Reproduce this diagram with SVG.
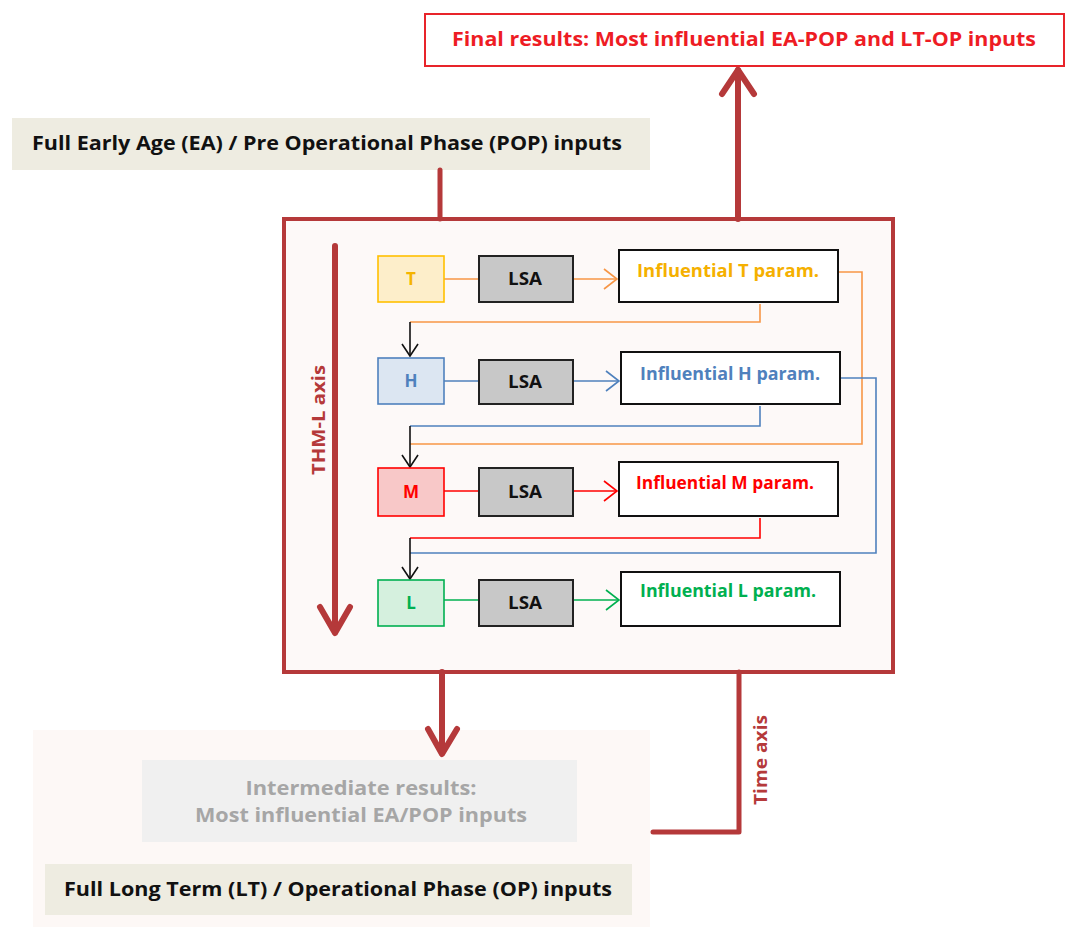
<svg xmlns="http://www.w3.org/2000/svg" width="1080" height="927" viewBox="0 0 1080 927">
<style>
.t{font-family:"Open Sans","Liberation Sans",sans-serif;font-weight:bold;}
.dr{stroke:#b5393a;fill:none;stroke-linecap:round;stroke-linejoin:round;}
.lsa{fill:#c8c8c8;stroke:#222;stroke-width:2;}
.inf{fill:#fff;stroke:#111;stroke-width:2;}
.thin{fill:none;stroke-width:1.6;}
.blk{fill:none;stroke:#111;stroke-width:1.6;}
</style>
<rect width="1080" height="927" fill="#fff"/>
<!-- bottom panel background -->
<rect x="33" y="730" width="617" height="197" fill="#fdf8f6"/>

<g id="final">
<rect x="425" y="14" width="639" height="52" fill="#fff" stroke="#e8242a" stroke-width="2"/>
<text class="t" x="744" y="46" font-size="19" fill="#ee1c24" text-anchor="middle" textLength="584" lengthAdjust="spacingAndGlyphs">Final results: Most influential EA-POP and LT-OP inputs</text>
</g>
<g id="ea">
<rect x="12" y="118" width="638" height="52" fill="#eeece1"/>
<text class="t" x="327" y="150" font-size="19" fill="#111" text-anchor="middle" textLength="590" lengthAdjust="spacingAndGlyphs">Full Early Age (EA) / Pre Operational Phase (POP) inputs</text>
</g>
<g id="main">
<rect x="284" y="219" width="609" height="453" fill="#fdf9f8" stroke="#b5393a" stroke-width="4"/>
</g>

<g id="connectors">
<!-- EA to main -->
<line class="dr" x1="440" y1="170" x2="440" y2="219" stroke-width="5"/>
<!-- up arrow to final -->
<line class="dr" x1="738" y1="219" x2="738" y2="70" stroke-width="6"/>
<polyline class="dr" points="722,94 738,70 754,94" stroke-width="6"/>
<!-- THM-L axis -->
<line class="dr" x1="335" y1="246" x2="335" y2="632" stroke-width="6"/>
<polyline class="dr" points="320,607 335,633 350,607" stroke-width="6"/>
<!-- down arrow to intermediate -->
<line class="dr" x1="442" y1="672" x2="442" y2="753" stroke-width="6" stroke="#c0504d"/>
<polyline class="dr" points="428,729 442,754 457,729" stroke-width="6" stroke="#c9585a"/>
<!-- time axis -->
<polyline class="dr" points="739,672 739,832 653,832" stroke-width="5" stroke-linecap="butt"/>

<!-- T row -->
<line class="thin" stroke="#f79646" x1="444" y1="279" x2="479" y2="279"/>
<line class="thin" stroke="#f79646" x1="573" y1="279" x2="617" y2="279"/>
<polyline class="thin" stroke="#f79646" points="604,269 617,279 604,289"/>
<polyline class="thin" stroke="#f79646" points="760,304 760,322 410,322"/>
<polyline class="thin" stroke="#f79646" points="838,272 862,272 862,444 410,444"/>
<!-- H row -->
<line class="thin" stroke="#4f81bd" x1="444" y1="381" x2="479" y2="381"/>
<line class="thin" stroke="#4f81bd" x1="573" y1="381" x2="619" y2="381"/>
<polyline class="thin" stroke="#4f81bd" points="606,371 619,381 606,391"/>
<polyline class="thin" stroke="#4f81bd" points="760,406 760,426 410,426"/>
<polyline class="thin" stroke="#4f81bd" points="840,378 876,378 876,553 410,553"/>
<!-- M row -->
<line class="thin" stroke="#ff0000" x1="444" y1="491" x2="479" y2="491"/>
<line class="thin" stroke="#ff0000" x1="573" y1="491" x2="617" y2="491"/>
<polyline class="thin" stroke="#ff0000" points="604,481 617,491 604,501"/>
<polyline class="thin" stroke="#ff0000" points="760,518 760,538 410,538"/>
<!-- L row -->
<line class="thin" stroke="#00b050" x1="444" y1="600" x2="479" y2="600"/>
<line class="thin" stroke="#00b050" x1="573" y1="600" x2="619" y2="600"/>
<polyline class="thin" stroke="#00b050" points="606,590 619,600 606,610"/>
<!-- black arrows -->
<line class="blk" x1="410" y1="322" x2="410" y2="355"/>
<polyline class="blk" points="402,344 410,356 418,344"/>
<line class="blk" x1="410" y1="426" x2="410" y2="466"/>
<polyline class="blk" points="402,455 410,467 418,455"/>
<line class="blk" x1="410" y1="538" x2="410" y2="578"/>
<polyline class="blk" points="402,567 410,579 418,567"/>
</g>

<text class="t" transform="translate(325,420) rotate(-90)" font-size="18" fill="#b5393a" text-anchor="middle" textLength="110" lengthAdjust="spacingAndGlyphs">THM-L axis</text>
<text class="t" transform="translate(767,760) rotate(-90)" font-size="18" fill="#b5393a" text-anchor="middle" textLength="90" lengthAdjust="spacingAndGlyphs">Time axis</text>

<g id="T">
<rect x="378" y="256" width="66" height="46" fill="#fdeeca" stroke="#ffc000" stroke-width="1.6"/>
<text class="t" x="411" y="285" font-size="17" fill="#f5b400" text-anchor="middle">T</text>
</g>
<g id="LSA-T"><rect class="lsa" x="479" y="256" width="94" height="46"/><text class="t" x="525" y="285" font-size="17" fill="#111" text-anchor="middle" textLength="34" lengthAdjust="spacingAndGlyphs">LSA</text></g>
<g id="InfT"><rect class="inf" x="619" y="250" width="219" height="52"/><text class="t" x="728" y="277" font-size="17" fill="#f5b000" text-anchor="middle" textLength="182" lengthAdjust="spacingAndGlyphs">Influential T param.</text></g>

<g id="H">
<rect x="378" y="358" width="66" height="46" fill="#dce6f2" stroke="#4f81bd" stroke-width="1.6"/>
<text class="t" x="411" y="387" font-size="17" fill="#4f81bd" text-anchor="middle">H</text>
</g>
<g id="LSA-H"><rect class="lsa" x="479" y="360" width="94" height="44"/><text class="t" x="525" y="388" font-size="17" fill="#111" text-anchor="middle" textLength="34" lengthAdjust="spacingAndGlyphs">LSA</text></g>
<g id="InfH"><rect class="inf" x="621" y="352" width="219" height="52"/><text class="t" x="730" y="380" font-size="17" fill="#4f81bd" text-anchor="middle" textLength="180" lengthAdjust="spacingAndGlyphs">Influential H param.</text></g>

<g id="M">
<rect x="378" y="468" width="66" height="48" fill="#f8c8c8" stroke="#ff0000" stroke-width="1.6"/>
<text class="t" x="411" y="498" font-size="17" fill="#ff0000" text-anchor="middle">M</text>
</g>
<g id="LSA-M"><rect class="lsa" x="479" y="468" width="94" height="48"/><text class="t" x="525" y="498" font-size="17" fill="#111" text-anchor="middle" textLength="34" lengthAdjust="spacingAndGlyphs">LSA</text></g>
<g id="InfM"><rect class="inf" x="619" y="462" width="219" height="54"/><text class="t" x="725" y="489" font-size="17" fill="#ff0000" text-anchor="middle" textLength="178" lengthAdjust="spacingAndGlyphs">Influential M param.</text></g>

<g id="L">
<rect x="378" y="580" width="66" height="46" fill="#d5f0de" stroke="#00b050" stroke-width="1.6"/>
<text class="t" x="411" y="609" font-size="17" fill="#00b050" text-anchor="middle">L</text>
</g>
<g id="LSA-L"><rect class="lsa" x="479" y="580" width="94" height="46"/><text class="t" x="525" y="609" font-size="17" fill="#111" text-anchor="middle" textLength="34" lengthAdjust="spacingAndGlyphs">LSA</text></g>
<g id="InfL"><rect class="inf" x="621" y="572" width="219" height="54"/><text class="t" x="728" y="597" font-size="17" fill="#00b050" text-anchor="middle" textLength="176" lengthAdjust="spacingAndGlyphs">Influential L param.</text></g>

<g id="intermediate">
<rect x="142" y="760" width="435" height="82" fill="#f0f0f0"/>
<text class="t" x="361" y="795" font-size="20" font-weight="600" fill="#a6a6a6" text-anchor="middle" textLength="231" lengthAdjust="spacingAndGlyphs">Intermediate results:</text>
<text class="t" x="361" y="822" font-size="20" font-weight="600" fill="#a6a6a6" text-anchor="middle" textLength="332" lengthAdjust="spacingAndGlyphs">Most influential EA/POP inputs</text>
</g>
<g id="lt">
<rect x="45" y="864" width="587" height="51" fill="#eeece1"/>
<text class="t" x="338" y="896" font-size="19" fill="#111" text-anchor="middle" textLength="548" lengthAdjust="spacingAndGlyphs">Full Long Term (LT) / Operational Phase (OP) inputs</text>
</g>
</svg>
